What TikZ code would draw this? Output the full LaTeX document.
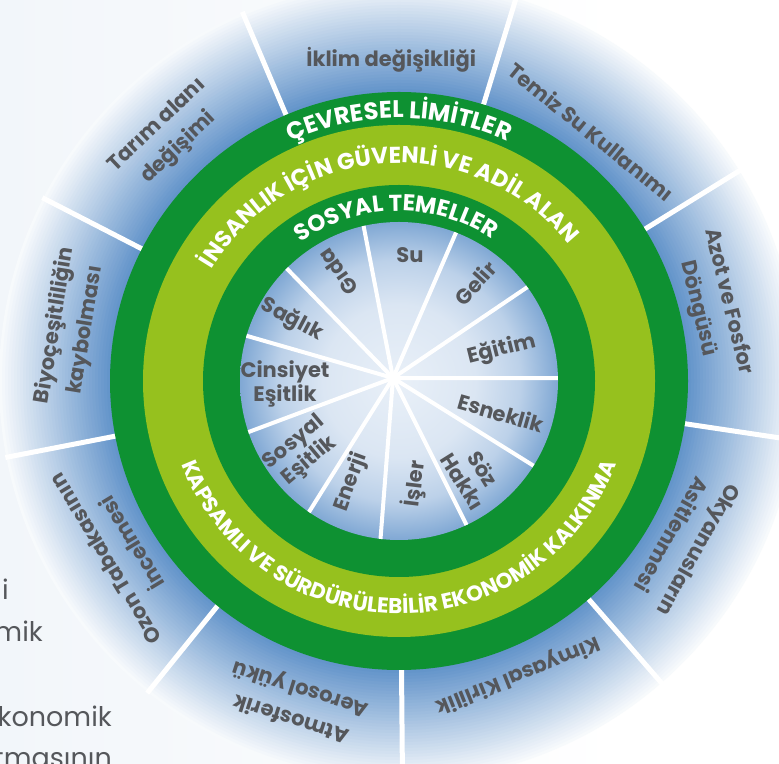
\documentclass[tikz,border=0pt]{standalone}
\usepackage{fontspec}
\setmainfont{Poppins}
\usetikzlibrary{decorations.text}

\definecolor{dgreen}{RGB}{14,145,50}
\definecolor{ygreen}{RGB}{150,193,30}
\definecolor{tgray}{RGB}{85,87,91}
\definecolor{bgL}{RGB}{242,246,250}
\definecolor{ob1}{RGB}{96,146,201}
\definecolor{id1}{RGB}{233,240,248}
\definecolor{id2}{RGB}{219,230,243}
\definecolor{id3}{RGB}{188,209,233}
\definecolor{id4}{RGB}{128,168,212}

\pgfdeclareradialshading{innerdisc}{\pgfpoint{0bp}{0bp}}{color(0bp)=(id1); color(12bp)=(id2); color(19bp)=(id3); color(25bp)=(id4); color(50bp)=(id4)}

\begin{document}
\begin{tikzpicture}[x=1pt,y=1pt,
  olabel/.style={text=tgray, font=\fontsize{21}{31}\selectfont\bfseries, align=center, inner sep=0pt},
  ilabel/.style={text=tgray, font=\fontsize{21}{24}\selectfont\bfseries, align=center, inner sep=0pt},
  ospoke/.style={white, line width=5pt},
  ispoke/.style={white, line width=4pt},
  frag/.style={text=tgray, font=\fontsize{27}{27}\selectfont, inner sep=0pt}]
\useasboundingbox (0,0) rectangle (779,763);
\fill[white] (0,0) rectangle (779,763);
\shade[left color=bgL, right color=white] (0,0) rectangle (620,763);
\coordinate (C) at (399,382);
\coordinate (P) at (393,385);
% text fragments of the page behind
\node[frag, anchor=base east] (f1) at (9,163) {i};
\node[frag, anchor=base east] (f2) at (43,121) {mik};
\node[frag, anchor=base east] (f3) at (112,36) {konomik};
\node[frag, anchor=base east] (f4) at (112,-4) {tmasının};
% outer ring: blue fading to white
\foreach \i in {0,...,37}{
  \pgfmathsetmacro{\rr}{400-3*\i}
  \pgfmathsetmacro{\pp}{100*(1-0.95*(\rr-289)/111)}
  \fill[ob1!\pp!white] (C) circle (\rr pt);
}
\foreach \a in {31.7,73,113,152.8,191,231.1,270.5,311,351.5} \draw[ospoke] ([shift={(\a:280pt)}]C) -- ([shift={(\a:401pt)}]C);
% green rings
\fill[dgreen] (C) circle (289pt);
\fill[ygreen] (C) circle (256pt);
\fill[dgreen] (C) circle (196pt);
\shade[shading=innerdisc] (C) circle (159pt);
\begin{scope}
\clip (C) circle (159pt);
\foreach \a in {102.8,68.9,36.1,1.0,-32.2,-64.8,-96.6,235.6,198.8,163.5,134.9} \draw[ispoke] (P) -- ([shift={(\a:165pt)}]C);
\end{scope}
% outer labels
\node[olabel] (l1) at ([shift={(91.4:321pt)}]C) {İklim değişikliği};
\node[olabel, rotate=-39] (l2) at ([shift={(52.4:315pt)}]C) {Temiz Su Kullanımı};
\node[olabel, rotate=-76.4] (l3) at ([shift={(13.6:323pt)}]C) {Azot ve Fosfor\\Döngüsü};
\node[olabel, rotate=240.6] (l4) at ([shift={(330.6:329pt)}]C) {Okyanusların\\Asitlenmesi};
\node[olabel, rotate=202] (l5) at ([shift={(292:317pt)}]C) {Kimyasal Kirlilik};
\node[olabel, rotate=162.3] (l6) at ([shift={(252.3:338pt)}]C) {Atmosferik\\Aerosol yükü};
\node[olabel, rotate=121.2] (l7) at ([shift={(211.2:328pt)}]C) {Ozon Tabakasının\\İncelmesi};
\node[olabel, rotate=80.8] (l8) at ([shift={(170.8:333pt)}]C) {Biyoçeşitliliğin\\kaybolması};
\node[olabel, rotate=43.4] (l9) at ([shift={(133.4:336pt)}]C) {Tarım alanı\\değişimi};
% inner labels
\node[ilabel] (s1) at (410,508) {Su};
\node[ilabel, rotate=125] (s2) at (338,491) {Gıda};
\node[ilabel, rotate=-28] (s3) at (292,443) {Sağlık};
\node[ilabel] (s4) at (285,379) {Cinsiyet\\Eşitlik};
\node[ilabel, rotate=40] (s5) at (302,311) {Sosyal\\Eşitlik};
\node[ilabel, rotate=70] (s6) at (351,281) {Enerji};
\node[ilabel, rotate=83] (s7) at (415,279) {İşler};
\node[ilabel, rotate=-58] (s8) at (473,288) {Söz\\Hakkı};
\node[ilabel, rotate=-16] (s9) at (501,350) {Esneklik};
\node[ilabel, rotate=14] (s10) at (502,413) {Eğitim};
\node[ilabel, rotate=48] (s11) at (475,480) {Gelir};
% ring texts
\path[decorate, decoration={text along path, text align=center, text color=white,
  text={|\fontsize{24}{24}\selectfont\bfseries|ÇEVRESEL LİMİTLER}}]
  ([shift={(150:263pt)}]C) arc[start angle=150, end angle=30, radius=263pt];
\path[decorate, decoration={text along path, text align=center, text color=white,
  text={|\fontsize{23}{23}\selectfont\bfseries|İNSANLIK İÇİN GÜVENLİ VE ADİL ALAN}}]
  ([shift={(178:218pt)}]C) arc[start angle=178, end angle=10, radius=218pt];
\path[decorate, decoration={text along path, text align=center, text color=white,
  text={|\fontsize{23}{23}\selectfont\bfseries|SOS{YA}L TEMELLER}}]
  ([shift={(171:170pt)}]C) arc[start angle=171, end angle=11, radius=170pt];
\path[decorate, decoration={text along path, text align=center, text color=white,
  text={|\fontsize{21.5}{21.5}\selectfont\bfseries|KAPSAMLI VE SÜRDÜRÜLEBİLİR EKONOMİK KALKINMA}}]
  ([shift={(175:233pt)}]C) arc[start angle=175, end angle=365, radius=233pt];
\end{tikzpicture}
\end{document}
